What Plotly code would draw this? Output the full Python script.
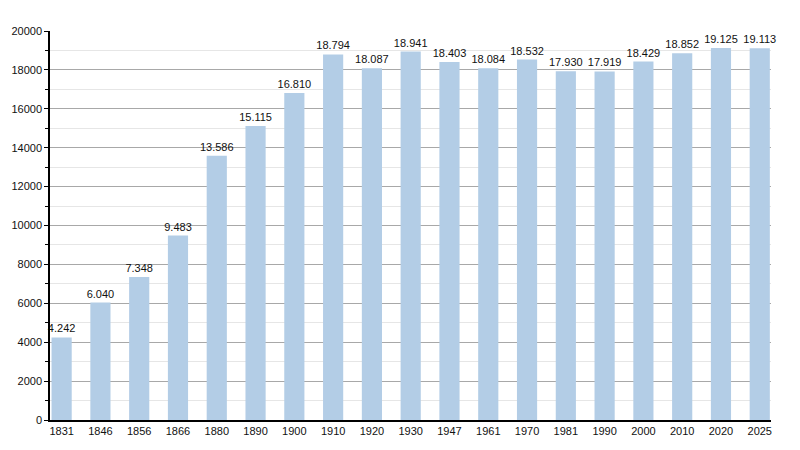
import plotly.graph_objects as go

years = ["1831", "1846", "1856", "1866", "1880", "1890", "1900", "1910", "1920", "1930",
         "1947", "1961", "1970", "1981", "1990", "2000", "2010", "2020", "2025"]
population = [4242, 6040, 7348, 9483, 13586, 15115, 16810, 18794, 18087, 18941,
              18403, 18084, 18532, 17930, 17919, 18429, 18852, 19125, 19113]
labels = [f"{v:,}".replace(",", ".") for v in population]
y_ticks = list(range(0, 20001, 2000))

xs = list(range(len(years)))

fig = go.Figure()
fig.add_trace(go.Bar(
    x=xs, y=population, width=0.52,
    marker=dict(color="#b3cde6", line=dict(width=0)),
    text=labels, textposition="outside", cliponaxis=False,
    constraintext="none",
    textfont=dict(family="Liberation Sans, Arial, sans-serif", size=11, color="#111111"),
))

fig.update_layout(
    width=792, height=442,
    margin=dict(l=42, r=29, t=23, b=30, autoexpand=False),
    paper_bgcolor="white", plot_bgcolor="white",
    showlegend=False,
    font=dict(family="Liberation Sans, Arial, sans-serif", size=11, color="#111111"),
)
fig.update_xaxes(
    tickmode="array", tickvals=xs, ticktext=years,
    range=[-0.3, 18.29], automargin=False,
    showline=True, linecolor="black", linewidth=1.5,
    ticks="", showgrid=False, zeroline=False,
    tickfont=dict(size=11, color="#111111"),
)
fig.update_yaxes(
    range=[0, 20000], tickvals=y_ticks, tickformat="d", automargin=False,
    showline=True, linecolor="black", linewidth=1.5,
    ticks="outside", ticklen=4, tickcolor="black",
    showgrid=True, gridcolor="#a8a8a8", gridwidth=1,
    zeroline=False,
    minor=dict(dtick=1000, showgrid=True, gridcolor="#e6e6e6", ticks="outside",
               ticklen=3, tickcolor="black"),
    tickfont=dict(size=11, color="#111111"),
)

fig.write_html("out.html")
